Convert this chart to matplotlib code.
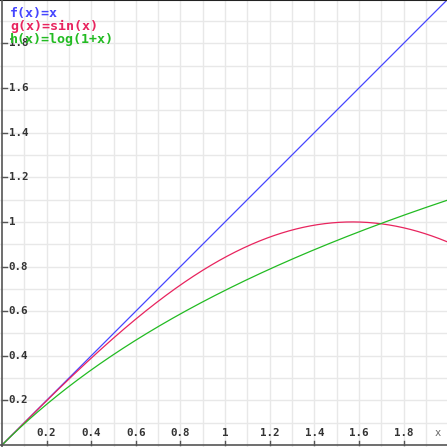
import numpy as np
import matplotlib.pyplot as plt

# curves shown in the reference
labels = ['f(x)=x', 'g(x)=sin(x)', 'h(x)=log(1+x)']
colors = ['#4545ff', '#e8245e', '#22bb22']
funcs = [lambda t: t, np.sin, np.log1p]

x_ticks = [0.2, 0.4, 0.6, 0.8, 1, 1.2, 1.4, 1.6, 1.8]
x_tick_labels = ['0.2', '0.4', '0.6', '0.8', '1', '1.2', '1.4', '1.6', '1.8']
y_ticks = [0.2, 0.4, 0.6, 0.8, 1, 1.2, 1.4, 1.6, 1.8]
y_tick_labels = ['0.2', '0.4', '0.6', '0.8', '1', '1.2', '1.4', '1.6', '1.8']

fig = plt.figure(figsize=(4.47, 4.47), dpi=100)
ax = fig.add_axes([0, 0, 1, 1])
ax.set_xlim(-0.009, 1.995)
ax.set_ylim(-0.009, 1.995)

# light grid every 0.1
for g in np.arange(0.1, 2.0, 0.1):
    ax.axvline(g, color='#e8e8e8', lw=1, zorder=0)
    ax.axhline(g, color='#e8e8e8', lw=1, zorder=0)

X = np.linspace(0, 2, 500)
for f, c in zip(funcs, colors):
    ax.plot(X, f(X), color=c, lw=0.9, zorder=2)

# axes lines
ax.axhline(0, color='#555555', lw=1.2, zorder=3)
ax.axvline(0, color='#555555', lw=1.2, zorder=3)
for s in ['left', 'bottom', 'right']:
    ax.spines[s].set_visible(False)
ax.spines['top'].set_color('#222222')
ax.spines['top'].set_linewidth(1.5)
ax.set_xticks([])
ax.set_yticks([])

font = dict(family='DejaVu Sans Mono', fontsize=7.8, fontweight='bold', color='#333333')
for t, lab in zip(x_ticks, x_tick_labels):
    ax.plot([t, t], [0, 0.016], color='#555555', lw=1, zorder=3)
    ax.text(t, 0.03, lab, ha='center', va='bottom', **font)
for t, lab in zip(y_ticks, y_tick_labels):
    ax.plot([0, 0.022], [t, t], color='#555555', lw=1, zorder=3)
    ax.text(0.03, t, lab, ha='left', va='center', **font)
ax.text(1.955, 0.03, 'x', ha='center', va='bottom', family='DejaVu Sans Mono',
        fontsize=7.5, color='#666666')

for i, (lab, c) in enumerate(zip(labels, colors)):
    ax.text(0.036, 1.962 - i * 0.058, lab, ha='left', va='top', color=c,
            family='DejaVu Sans Mono', fontsize=9.6, fontweight='bold', zorder=4)

fig.savefig('out.png', dpi=100)
